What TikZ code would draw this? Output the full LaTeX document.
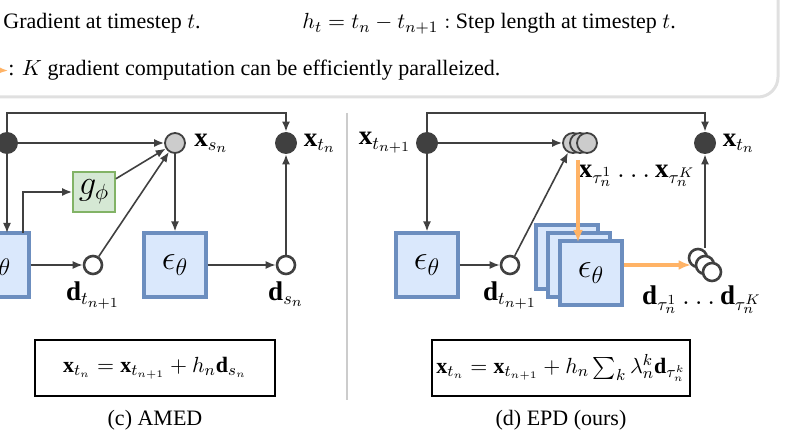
\documentclass[tikz,border=0pt]{standalone}
\usepackage{amsmath,amssymb}
\usepackage{fontspec}
\setmainfont{Liberation Serif}
\usetikzlibrary{positioning,arrows.meta}
\definecolor{epsfill}{HTML}{DAE8FC}
\definecolor{epsdraw}{HTML}{6C8EBF}
\definecolor{gfill}{HTML}{D5E8D4}
\definecolor{gdraw}{HTML}{82B366}
\definecolor{dark}{HTML}{404040}
\definecolor{par}{HTML}{FFB366}
\begin{document}
\begin{tikzpicture}[
  x=0.5pt,y=-0.5pt,
  font=\fontsize{11}{12}\selectfont,
  every node/.style={inner sep=0pt},
  solid/.style={circle,fill=dark,minimum size=11pt},
  grey/.style={circle,draw=dark,fill=black!20,line width=0.9pt,minimum size=10pt},
  open/.style={circle,draw=dark,fill=white,line width=1.3pt,minimum size=9pt},
  eps/.style={draw=epsdraw,fill=epsfill,line width=1.6pt,minimum width=31pt,minimum height=32pt,font=\fontsize{17}{18}\selectfont},
  gphi/.style={draw=gdraw,fill=gfill,line width=0.9pt,minimum width=21pt,minimum height=20pt,font=\fontsize{16}{17}\selectfont},
  formula/.style={draw,line width=0.6pt,minimum width=120pt,minimum height=28pt},
  flow/.style={draw=dark,line width=0.8pt,-{Latex[length=5pt,width=4pt]}},
  parflow/.style={draw=par,line width=1.8pt,-{Latex[length=6pt,width=5pt]}},
  lab/.style={font=\fontsize{13.5}{15}\selectfont}
  ]
  \clip (0,0) rectangle (787,443);
  \useasboundingbox (0,0) rectangle (787,443);

  % legend
  \draw[black!12,line width=1.5pt,rounded corners=10pt] (-30,-20) rectangle (778,97);
  \node[anchor=base west] (legA) at (3,29) {Gradient at timestep $t$.};
  \node[anchor=base west] (legB) at (302,29) {$h_t=t_n-t_{n+1}:$ Step length at timestep $t$.};
  \coordinate (legC) at (-10,70);
  \node[anchor=base west] (legD) at (8,76) {: $K$ gradient computation can be efficiently paralleized.};
  \draw[parflow] (legC) -- (legD.west);

  % (c) AMED
  \node[solid] (A0) at (7,143) {};
  \node[grey] (As) at (175,143) {};
  \node[right=4pt of As,lab] {$\mathbf{x}_{s_n}$};
  \node[solid] (At) at (286,143) {};
  \node[right=3pt of At,lab] {$\mathbf{x}_{t_n}$};
  \node[eps] (Ae1) at (-2,265) {$\epsilon_\theta$};
  \node[gphi] (Ag) at (94,192) {$g_\phi$};
  \node[open] (Ad1) at (93,265) {};
  \node[below=3pt of Ad1,lab] {$\mathbf{d}_{t_{n+1}}$};
  \node[eps] (Ae2) at (175,265) {$\epsilon_\theta$};
  \node[open] (Ad2) at (286,265) {};
  \node[below=3pt of Ad2,lab] {$\mathbf{d}_{s_n}$};
  \draw[flow] (A0) |- (180,113) -| (At);
  \draw[flow] (A0) -- (As);
  \draw[flow] (A0) -- (7,233);
  \draw[flow] (23,233) |- (Ag);
  \draw[flow] (Ag) -- (As);
  \draw[flow] (Ae1) -- (Ad1);
  \draw[flow] (Ad1) -- (As);
  \draw[flow] (As) -- (Ae2);
  \draw[flow] (Ae2) -- (Ad2);
  \draw[flow] (Ad2) -- (At);
  \node[formula] (Af) at (155,368) {$\mathbf{x}_{t_n}=\mathbf{x}_{t_{n+1}}+h_n\mathbf{d}_{s_n}$};
  \node (Acap) at (155,420) {(c) AMED};

  \draw[black!20,line width=0.8pt] (347,113) -- (347,400);

  % (d) EPD
  \node[solid] (B0) at (427,143) {};
  \node[left=2pt of B0,lab] {$\mathbf{x}_{t_{n+1}}$};
  \foreach \i/\x in {1/573,2/580,3/587}
    \node[grey] (Bs\i) at (\x,143) {};
  \node[lab] (Bslab) at (637,176) {$\mathbf{x}_{\tau_n^1}\ldots\mathbf{x}_{\tau_n^K}$};
  \node[solid] (Bt) at (705,143) {};
  \node[right=3pt of Bt,lab] {$\mathbf{x}_{t_n}$};
  \node[eps] (Be1) at (427,265) {$\epsilon_\theta$};
  \node[open] (Bd1) at (510,265) {};
  \node[below=3pt of Bd1,lab] {$\mathbf{d}_{t_{n+1}}$};
  \foreach \i/\x/\y in {1/567/257,2/579/265}
    \node[eps] (Bk\i) at (\x,\y) {};
  \node[eps] (Be2) at (591,273) {$\epsilon_\theta$};
  \foreach \i/\x/\y in {1/698/258,2/705/265,3/712/272}
    \node[open] (Bd\i k) at (\x,\y) {};
  \node[lab] (Bdlab) at (702,300) {$\mathbf{d}_{\tau_n^1}\ldots\mathbf{d}_{\tau_n^K}$};
  \draw[flow] (B0) |- (600,113) -| (Bt);
  \draw[flow] (B0) -- (Be1);
  \draw[flow] (B0) -- (Bs1);
  \draw[flow] (Be1) -- (Bd1);
  \draw[flow] (Bd1) -- (Bs1);
  \draw[parflow] (578,160) -- (578,242);
  \draw[parflow] (Be2.east|-Bd2k) -- (Bd1k.south west|-Bd2k);
  \draw[flow] (Bd1k.north-|Bt) -- (Bt);
  \node[formula,minimum width=129pt] (Bf) at (561,368) {$\mathbf{x}_{t_n}=\mathbf{x}_{t_{n+1}}+h_n\sum_k\lambda_n^k\mathbf{d}_{\tau_n^k}$};
  \node (Bcap) at (561,420) {(d) EPD (ours)};
\end{tikzpicture}
\end{document}
